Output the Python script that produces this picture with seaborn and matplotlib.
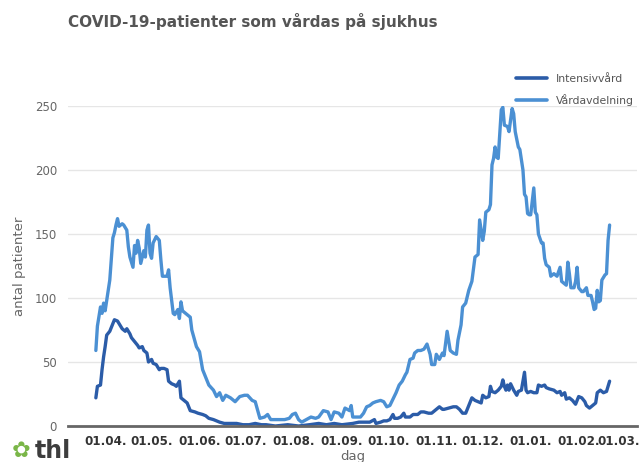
import matplotlib
matplotlib.use("Agg")
import matplotlib.dates as mdates
import matplotlib.pyplot as plt
import matplotlib.transforms as mtransforms
import pandas as pd
import seaborn as sns
from matplotlib.lines import Line2D

START = pd.Timestamp("2020-04-01")

# day offsets from 01.04.2020 and patient counts
icu_days = [-6, -5, -3, -2, -1, 0, 1, 3, 5, 6, 8, 9, 11, 13, 14, 16, 17, 19, 21, 22, 24, 25, 27, 28,
            30, 31, 33, 35, 36, 38, 40, 41, 43, 45, 46, 48, 49, 51, 53, 55, 58, 60, 63, 65, 67, 70,
            72, 74, 77, 80, 85, 89, 93, 97, 101, 104, 110, 118, 125, 132, 138, 143, 148, 153, 160,
            164, 168, 171, 174, 175, 178, 180, 182, 184, 186, 187, 189, 191, 193, 194, 197, 199, 202,
            204, 206, 209, 211, 213, 216, 218, 219, 222, 225, 227, 229, 231, 233, 235, 237, 239, 241,
            243, 244, 246, 248, 249, 250, 252, 254, 256, 257, 258, 259, 260, 261, 262, 264, 266, 267,
            269, 271, 272, 273, 275, 277, 279, 280, 282, 284, 285, 287, 290, 292, 294, 295, 297, 298,
            300, 302, 304, 306, 308, 310, 311, 313, 315, 317, 318, 320, 322, 324, 325, 326]
icu = [22, 31, 32, 44, 54, 62, 71, 74, 80, 83, 82, 80, 76, 74, 76, 72, 69, 66, 63, 61, 62, 59, 57, 50,
       52, 49, 48, 44, 45, 45, 44, 35, 33, 32, 31, 35, 22, 20, 18, 12, 11, 10, 9, 8, 6, 5,
       4, 3, 2, 2, 2, 1, 1, 2, 1, 1, 0, 1, 0, 1, 2, 1, 2, 1, 2,
       3, 3, 3, 5, 2, 3, 4, 4, 5, 9, 6, 6, 7, 10, 7, 7, 9, 9,
       11, 11, 10, 10, 12, 15, 13, 13, 14, 15, 15, 13, 10, 10, 16, 22, 20, 19,
       18, 24, 22, 23, 31, 27, 26, 28, 31, 36, 31, 28, 32, 28, 33, 28, 24, 27,
       28, 42, 28, 26, 27, 26, 26, 32, 31, 32, 30, 29, 28, 26, 27, 24, 26, 21,
       22, 20, 17, 23, 22, 19, 16, 14, 16, 18, 26, 28, 26, 27, 31, 35]

ward_days = [-6, -5, -3, -2, -1, 0, 1, 3, 5, 6, 7, 8, 9, 11, 12, 14, 15, 16, 18, 19, 20, 21, 22, 23,
             25, 26, 27, 28, 29, 30, 31, 33, 35, 36, 37, 40, 41, 42, 44, 45, 47, 48, 49, 50, 53, 55,
             56, 59, 61, 63, 65, 67, 70, 72, 74, 76, 78, 81, 84, 87, 90, 92, 95, 97, 100, 103, 105,
             107, 111, 116, 119, 121, 123, 125, 127, 130, 133, 136, 138, 141, 144, 146, 148, 151, 153,
             155, 158, 159, 160, 163, 165, 167, 169, 171, 173, 175, 178, 180, 182, 184, 186, 188, 190,
             192, 194, 195, 197, 199, 200, 202, 204, 206, 208, 210, 211, 213, 214, 216, 218, 219, 221,
             223, 225, 227, 228, 230, 231, 233, 235, 237, 239, 241, 242, 243, 244, 245, 246, 248, 249,
             250, 251, 252, 253, 254, 256, 257, 258, 260, 261, 262, 263, 264, 265, 267, 268, 270, 271,
             272, 273, 274, 275, 277, 278, 279, 280, 282, 283, 284, 285, 287, 288, 290, 291, 292, 294,
             295, 297, 298, 299, 300, 301, 303, 304, 305, 306, 308, 309, 311, 312, 314, 315, 316, 317,
             318, 319, 320, 321, 323, 324, 325, 326]
ward = [59, 78, 93, 88, 96, 90, 98, 114, 147, 151, 157, 162, 156, 158, 157, 153, 140, 132, 124, 141,
        135, 145, 139, 127, 137, 132, 153, 157, 135, 131, 143, 148, 145, 130, 117, 117, 122, 108, 88,
        87, 91, 84, 97, 90, 87, 85, 75, 62, 58, 44, 38, 32, 28, 23, 26, 20, 24, 22, 19, 23, 24, 24,
        20, 19, 6, 7, 9, 5, 5, 5, 6, 9, 10, 5, 3, 5, 7, 6, 7, 12, 11, 5, 11, 10, 7, 14, 12, 16, 7, 7,
        7, 10, 15, 16, 18, 19, 20, 19, 15, 16, 21, 26, 32, 35, 40, 42, 52, 53, 57, 59, 59, 60, 64, 56,
        48, 48, 56, 52, 57, 55, 74, 59, 57, 56, 67, 79, 93, 96, 106, 113, 132, 134, 161, 153, 145,
        152, 167, 169, 173, 204, 209, 218, 210, 209, 247, 249, 235, 234, 230, 239, 248, 244, 230, 218,
        216, 200, 181, 179, 166, 165, 165, 186, 167, 165, 150, 143, 143, 131, 126, 124, 117, 119, 118,
        117, 124, 113, 111, 110, 128, 119, 108, 108, 113, 124, 108, 105, 105, 108, 102, 102, 97, 91,
        92, 106, 97, 98, 114, 118, 119, 145, 157]

series_names = ["Intensivvård", "Vårdavdelning"]
colors = ["#2b5ca8", "#4b90d3"]
month_ticks = pd.date_range("2020-04-01", "2021-03-01", freq="MS")
y_ticks = [0, 50, 100, 150, 200, 250]

assert len(icu_days) == len(icu) and len(ward_days) == len(ward)

df = pd.concat([
    pd.DataFrame({"dag": START + pd.to_timedelta(icu_days, unit="D"), "antal": icu, "serie": series_names[0]}),
    pd.DataFrame({"dag": START + pd.to_timedelta(ward_days, unit="D"), "antal": ward, "serie": series_names[1]}),
])

sns.set_style("white")
plt.rcParams["font.family"] = ["DejaVu Sans"]

fig = plt.figure(figsize=(6.4, 4.62), dpi=100)
ax = fig.add_axes([68 / 640, 36 / 462, 569 / 640, 320 / 462])
sns.lineplot(data=df, x="dag", y="antal", hue="serie", palette=colors,
             linewidth=2.4, ax=ax, legend=False)

ax.set_xlim(START - pd.Timedelta(days=24), START + pd.Timedelta(days=343.7))
ax.set_ylim(0, 250)
ax.set_yticks(y_ticks)
ax.set_xticks(month_ticks)
ax.xaxis.set_major_formatter(mdates.DateFormatter("%d.%m."))

ax.grid(axis="y", color="#e6e6e6", linewidth=1)
ax.grid(axis="x", visible=False)
for side in ["left", "top", "right"]:
    ax.spines[side].set_visible(False)
ax.spines["bottom"].set_color("#666666")
ax.spines["bottom"].set_linewidth(2)
ax.tick_params(axis="x", length=5, width=1, color="#666666", labelsize=8.6,
               labelcolor="#333333", pad=1.5)
xlabels = ax.get_xticklabels()
for lbl in xlabels:
    lbl.set_fontweight("bold")
# last label squeezed in against the right edge, like the original
xlabels[-1].set_transform(xlabels[-1].get_transform()
                          + mtransforms.ScaledTranslation(-3 / 100, 0, fig.dpi_scale_trans))
ax.tick_params(axis="y", length=0, labelsize=8.5, labelcolor="#666666", pad=8)

ax.set_xlabel("dag", color="#666666", fontsize=9.5, labelpad=0)
ax.xaxis.set_label_coords(0.5, -24 / 320)
ax.set_ylabel("antal patienter", color="#666666", fontsize=9.5, labelpad=6)

fig.text(68 / 640, 1 - 21 / 462, "COVID-19-patienter som vårdas på sjukhus",
         fontsize=11, fontweight="bold", color="#555555", va="center", ha="left")

handles = [Line2D([], [], color=c, linewidth=2.6) for c in colors]
ax.legend(handles, series_names, loc="upper left", bbox_to_anchor=(516 / 640, 1 - 74 / 462),
          bbox_transform=fig.transFigure, frameon=False, fontsize=7.8, labelcolor="#555555",
          handlelength=2.9, handletextpad=0.8, labelspacing=0.95, borderpad=0, borderaxespad=0)

# thl logo
fig.text(12 / 640, 1 - 451 / 462, "✿", fontsize=16, color="#7ab648", va="center", ha="left")
fig.text(35 / 640, 1 - 451 / 462, "thl", fontsize=17, fontweight="bold", color="#3d3d3d",
         va="center", ha="left")

fig.savefig("out.png", dpi=100)
